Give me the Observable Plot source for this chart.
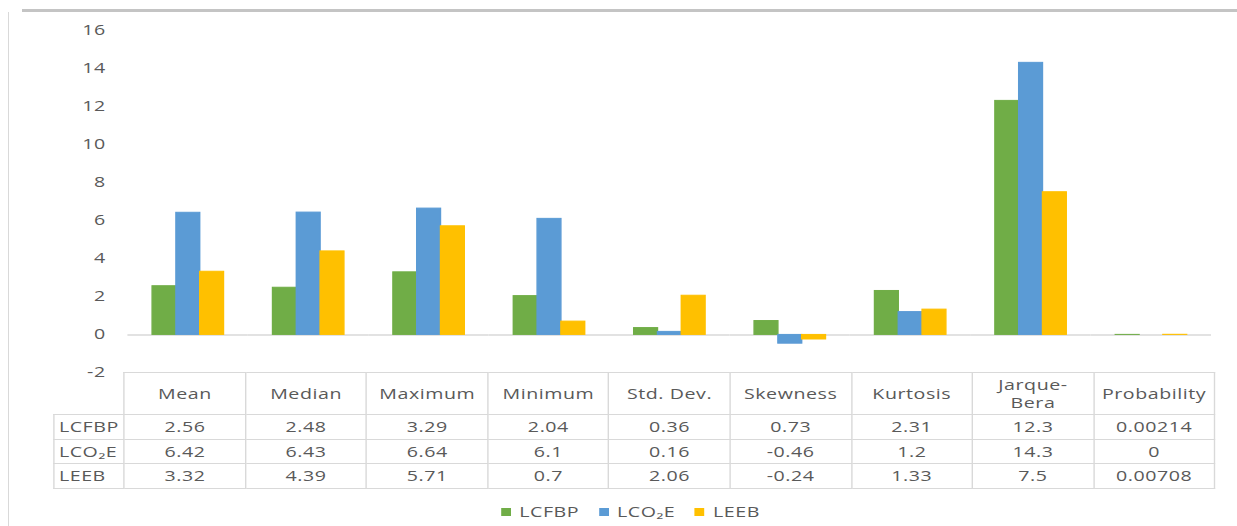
<!DOCTYPE html>
<html>
<head>
<meta charset="utf-8">
<script src="https://cdn.jsdelivr.net/npm/d3@7"></script>
<script src="https://cdn.jsdelivr.net/npm/@observablehq/plot@0.6"></script>
<style>
  html, body { margin: 0; padding: 0; background: #fff; overflow: hidden; }
  body { width: 1237px; height: 526px; position: relative; font-family: "Open Sans", sans-serif; color: #595959; }
  #frameTop { position: absolute; left: 22px; top: 9px; width: 1215px; height: 3px; background: #c4c4c4; }
  #frameLeft { position: absolute; left: 8px; top: 12px; width: 1px; height: 514px; background: #d9d9d9; }
  #stage { position: absolute; left: 0; top: 0; height: 526px; transform-origin: 0 0; }
  #chart { position: absolute; left: 0; top: 0; }
  #chart svg text { letter-spacing: 0.4px; }
  table.stats { position: absolute; border-collapse: collapse; table-layout: fixed; font-size: 14px; color: #595959; letter-spacing: 0.4px; }
  table.stats th, table.stats td { border: 1px solid #d9d9d9; text-align: center; padding: 0; font-weight: normal; }
  table.stats th { white-space: pre-line; line-height: 18px; }
  table.stats th.corner { border: none; }
  table.stats td.rowlabel { text-align: left; padding-left: 3px; }
  #legend { position: absolute; display: flex; align-items: center; font-size: 14px; color: #595959; letter-spacing: 0.4px; }
  #legend .item { display: flex; align-items: center; margin-right: 14px; }
  #legend .swatch { width: 7px; height: 8px; margin-right: 6px; }
</style>
</head>
<body>
<div id="frameTop"></div>
<div id="frameLeft"></div>
<div id="stage">
  <div id="chart"></div>
</div>
<script>
// Descriptive statistics of the three series
const stats = ["Mean", "Median", "Maximum", "Minimum", "Std. Dev.", "Skewness", "Kurtosis", "Jarque-Bera", "Probability"];
const seriesNames = ["LCFBP", "LCO₂E", "LEEB"];
const lcfbp = [2.56, 2.48, 3.29, 2.04, 0.36, 0.73, 2.31, 12.3, 0.00214];
const lco2e = [6.42, 6.43, 6.64, 6.1, 0.16, -0.46, 1.2, 14.3, 0];
const leeb = [3.32, 4.39, 5.71, 0.7, 2.06, -0.24, 1.33, 7.5, 0.00708];
const seriesColors = ["#70AD47", "#5B9BD5", "#FFC000"];
const yTicks = [-2, 0, 2, 4, 6, 8, 10, 12, 14, 16];

const seriesValues = [lcfbp, lco2e, leeb];
const rows = [];
stats.forEach((s, i) => seriesNames.forEach((n, j) => rows.push({stat: s, series: n, value: seriesValues[j][i]})));

// The whole figure is laid out narrow, then widened horizontally
const S = 1.4;
const W = 1237 / S;
const plotLeft = 123.7, plotRight = 1214;
const stage = document.getElementById("stage");
stage.style.width = W + "px";
stage.style.transform = `scaleX(${S})`;

const chart = Plot.plot({
  width: W,
  height: 392,
  marginTop: 30,
  marginBottom: 19.5,
  marginLeft: plotLeft / S,
  marginRight: (1237 - plotRight) / S,
  style: {fontFamily: "Open Sans", fontSize: "14px", color: "#595959", background: "transparent"},
  fx: {domain: stats, padding: 0, axis: null, label: null},
  x: {domain: seriesNames, paddingInner: 0, paddingOuter: 1, axis: null},
  y: {domain: [-2, 16], label: null},
  color: {domain: seriesNames, range: seriesColors},
  marks: [
    Plot.axisY(yTicks, {tickSize: 0, tickPadding: 16, label: null, fontSize: 14, tickFormat: d => String(d)}),
    Plot.ruleY([0], {stroke: "#d9d9d9", strokeWidth: 1.5}),
    Plot.barY(rows, {fx: "stat", x: "series", y: "value", fill: "series", stroke: "series", strokeWidth: 1})
  ]
});
document.getElementById("chart").appendChild(chart);

// Data table under the bars
const colW = (plotRight - plotLeft) / stats.length / S;
const labelW = (plotLeft - 53.3) / S;
const table = d3.select("#stage").append("table").attr("class", "stats")
  .style("left", (53.3 / S) + "px").style("top", "372px")
  .style("width", (labelW + colW * stats.length) + "px");
const colgroup = table.append("colgroup");
colgroup.append("col").style("width", labelW + "px");
stats.forEach(() => colgroup.append("col").style("width", colW + "px"));
const head = table.append("tr").style("height", "42px");
head.append("th").attr("class", "corner");
stats.forEach(s => head.append("th").text(s.replace("-", "-\n")));
seriesNames.forEach((n, j) => {
  const tr = table.append("tr").style("height", "24.5px");
  tr.append("td").attr("class", "rowlabel").text(n);
  seriesValues[j].forEach(v => tr.append("td").text(String(v)));
});

// Legend
const legend = d3.select("#stage").append("div").attr("id", "legend")
  .style("left", (501 / S) + "px").style("top", "502px");
seriesNames.forEach((n, j) => {
  const item = legend.append("div").attr("class", "item");
  item.append("div").attr("class", "swatch").style("background", seriesColors[j]);
  item.append("span").text(n);
});
</script>
</body>
</html>
